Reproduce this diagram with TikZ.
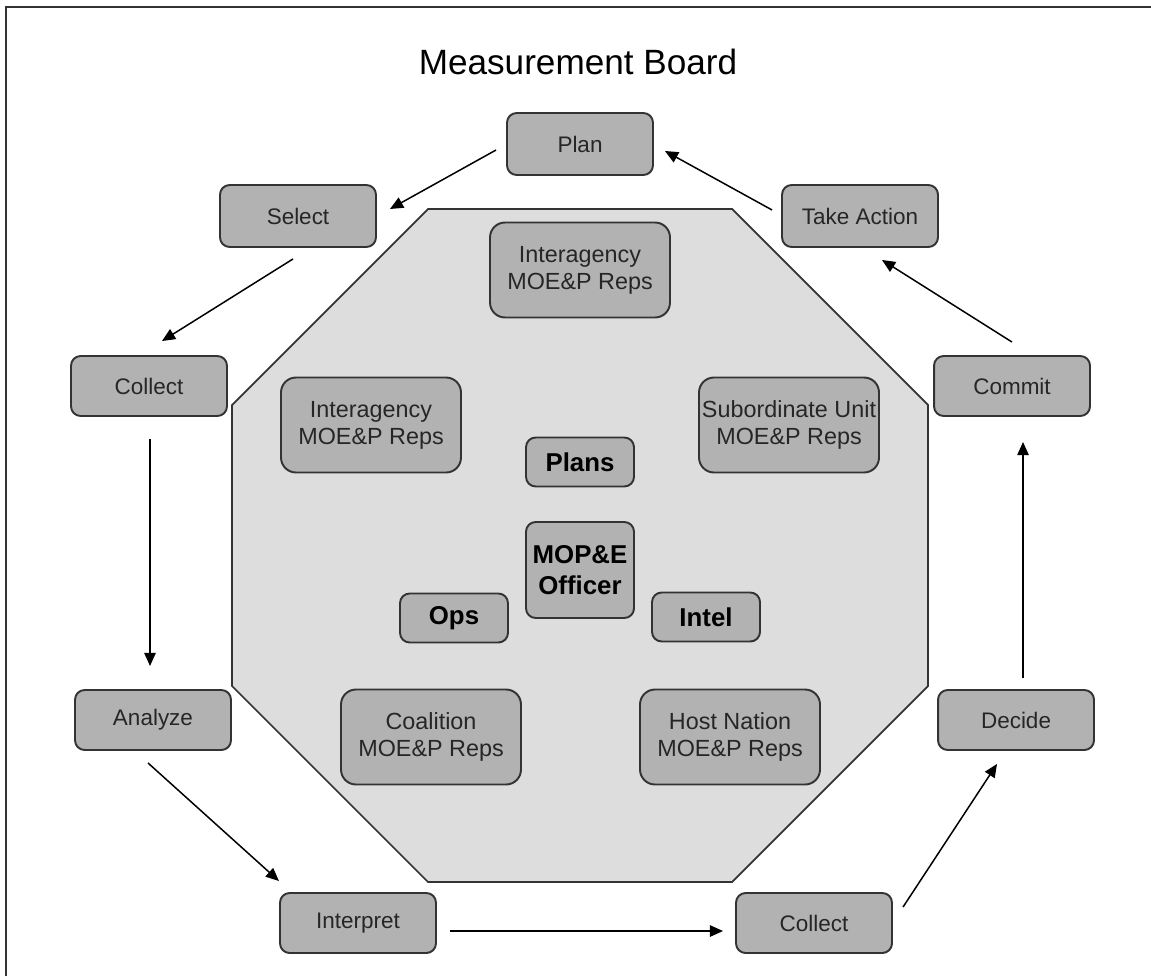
\documentclass[tikz,border=0pt]{standalone}
\usepackage{fontspec}
\setmainfont{Liberation Sans}
\usetikzlibrary{arrows.meta,calc}
\definecolor{boxgray}{HTML}{B2B2B2}
\definecolor{octgray}{HTML}{DDDDDD}
\definecolor{edgegray}{HTML}{333333}

\begin{document}
\begin{tikzpicture}[x=0.02cm,y=-0.02cm,
  stage/.style={draw=edgegray,line width=1.1pt,fill=boxgray,rounded corners=5.5pt,
    minimum width=3.12cm,minimum height=1.2cm,inner sep=0pt,text=black!85,
    font=\fontsize{12.8}{15}\selectfont},
  reps/.style={stage,rounded corners=8.5pt,minimum width=3.6cm,minimum height=1.9cm,
    align=center,font=\fontsize{13.3}{15.3}\selectfont},
  role/.style={stage,minimum width=2.16cm,minimum height=0.98cm,align=center,
    text=black,font=\bfseries\fontsize{14.7}{17.5}\selectfont},
  flow/.style={-{Triangle[length=7.5pt,width=6.5pt]},line width=0.85pt}]
\useasboundingbox (0,0) rectangle (1151,976);
\draw[edgegray,line width=1.2pt] (6,976) -- (6,7) -- (1151,7);
\node (title) at (578,62) {\fontsize{20}{24}\selectfont Measurement Board};

\draw[edgegray,line width=1pt,fill=octgray] (428,209) -- (732,209) -- (928,405) -- (928,686)
  -- (732,882) -- (428,882) -- (232,686) -- (232,405) -- cycle;

\node[stage,minimum width=2.92cm,minimum height=1.24cm] (plan) at (580,144) {Plan};
\node[stage,minimum height=1.24cm] (select) at (298,216) {Select};
\node[stage,minimum height=1.24cm] (takeact) at (860,216) {Take Action};
\node[stage] (collectL) at (149,386) {Collect};
\node[stage] (commit) at (1012,386) {Commit};
\node[stage] (analyze) at (153,720) {Analyze};
\node[stage] (decide) at (1016,720) {Decide};
\node[stage] (interp) at (358,923) {Interpret};
\node[stage] (collectB) at (814,923) {Collect};

\node[reps] (iatop) at (580,270) {Interagency\\MOE\&P Reps};
\node[reps] (ialeft) at (371,425) {Interagency\\MOE\&P Reps};
\node[reps] (subunit) at (789,425) {Subordinate Unit\\MOE\&P Reps};
\node[reps] (coalition) at (431,737) {Coalition\\MOE\&P Reps};
\node[reps] (hostnation) at (730,737) {Host Nation\\MOE\&P Reps};

\node[role] (plans) at (580,462) {Plans};
\node[role,minimum height=1.92cm] (mope) at (580,570) {MOP\&E\\Officer};
\node[role] (ops) at (454,618) {Ops};
\node[role] (intel) at (706,617) {Intel};

\draw[flow] ($(plan.west)+(-10,6)$) -- ($(select.east)+(13,-7)$);
\draw[flow] ($(takeact.west)+(-9,-6)$) -- ($(plan.east)+(11,7)$);
\draw[flow] ($(select.south)+(-5,11)$) -- ($(collectL.north)+(13,-14)$);
\draw[flow] ($(collectL.south)+(1,22)$) -- ($(collectL.south |- analyze.north)+(1,-23)$);
\draw[flow] ($(analyze.south)+(-5,12)$) -- ($(interp.north)+(-79,-11)$);
\draw[flow] ($(interp.east)+(13,8)$) -- ($(collectB.west)+(-12,8)$);
\draw[flow] ($(collectB.north)+(89,15)$) -- ($(decide.south)+(-19,13)$);
\draw[flow] ($(decide.north)+(7,-11)$) -- ($(decide.north |- commit.south)+(7,25)$);
\draw[flow] ($(commit.north)+(0,-13)$) -- ($(takeact.south)+(22,12)$);
\end{tikzpicture}
\end{document}
